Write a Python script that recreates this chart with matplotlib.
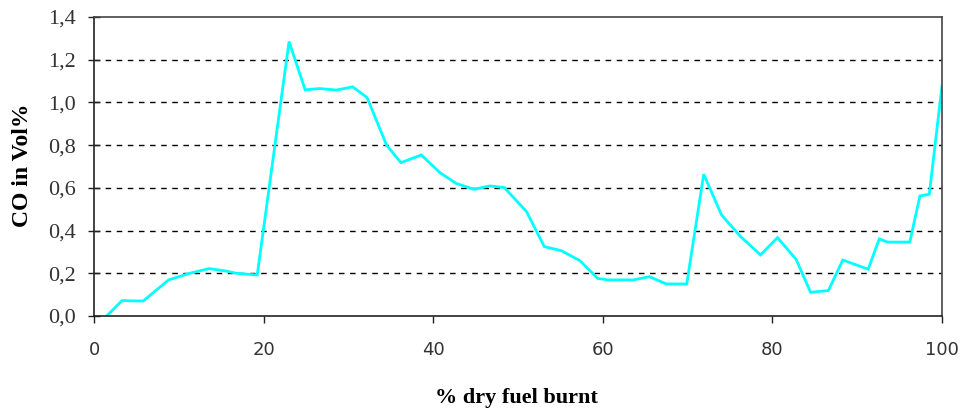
import matplotlib
matplotlib.use("Agg")
import matplotlib.pyplot as plt
from matplotlib.ticker import FuncFormatter

x_burnt = [1.5, 3.3, 5.8, 8.8, 11.3, 13.6, 15.6, 16.8, 19.25, 23.0, 24.9, 26.6, 28.6, 30.5,
           32.2, 34.5, 36.2, 38.6, 40.8, 42.7, 44.8, 46.7, 48.4, 51.0, 53.1, 55.1, 57.3,
           59.4, 60.6, 63.6, 65.5, 67.5, 69.9, 71.9, 74.0, 76.25, 78.6, 80.6, 82.8, 84.5,
           86.6, 88.3, 91.3, 92.6, 93.6, 96.2, 97.4, 98.5, 100.0]
co_vol = [0.0, 0.072, 0.07, 0.169, 0.20, 0.222, 0.21, 0.20, 0.192, 1.285, 1.059, 1.065, 1.058,
          1.073, 1.023, 0.80, 0.718, 0.754, 0.671, 0.621, 0.593, 0.609, 0.601, 0.489, 0.325,
          0.306, 0.259, 0.176, 0.169, 0.169, 0.184, 0.15, 0.15, 0.664, 0.473, 0.372, 0.286,
          0.367, 0.265, 0.111, 0.119, 0.262, 0.219, 0.361, 0.346, 0.346, 0.562, 0.57, 1.077]
x_ticks = [0, 20, 40, 60, 80, 100]
y_ticks = [0.0, 0.2, 0.4, 0.6, 0.8, 1.0, 1.2, 1.4]

fig = plt.figure(figsize=(9.63, 4.11), dpi=100)
ax = fig.add_axes([94/963, 1 - 316/411, (942 - 94)/963, (316 - 17)/411])

ax.plot(x_burnt, co_vol, color="#00FFFF", lw=2.0, solid_joinstyle="miter")
ax.set_xlim(0, 100)
ax.set_ylim(0, 1.4)
ax.set_xticks(x_ticks)
ax.set_yticks(y_ticks)
ax.yaxis.set_major_formatter(FuncFormatter(lambda v, p: f"{v:.1f}".replace(".", ",")))

for y in y_ticks[1:-1]:
    ax.axhline(y, color="black", lw=1.0, ls=(0, (4, 4)), zorder=0)

for s in ax.spines.values():
    s.set_color("#444444")
    s.set_linewidth(1.2)
ax.spines["left"].set_color("#222222")
ax.spines["bottom"].set_color("#222222")

ax.tick_params(axis="y", direction="inout", length=9, width=1, color="#222222", pad=8.5)
ax.tick_params(axis="x", direction="out", length=5, width=1, color="#222222", pad=13)
for lab in ax.get_yticklabels():
    lab.set_fontfamily("Liberation Serif")
    lab.set_fontsize(16)
    lab.set_color("#333333")
for lab in ax.get_xticklabels():
    lab.set_fontfamily("DejaVu Sans")
    lab.set_fontsize(13)
    lab.set_color("#333333")

ax.set_xlabel("% dry fuel burnt", fontfamily="Liberation Serif", fontweight="bold",
              fontsize=16, va="baseline")
ax.xaxis.set_label_coords((516.5 - 94) / 848, (316 - 403) / 299)
ax.set_ylabel("CO in Vol%", fontfamily="Liberation Serif", fontweight="bold",
              fontsize=17, va="center")
ax.yaxis.set_label_coords((22.5 - 94) / 848, (316 - 165) / 299)

fig.savefig("out.png", dpi=100)
